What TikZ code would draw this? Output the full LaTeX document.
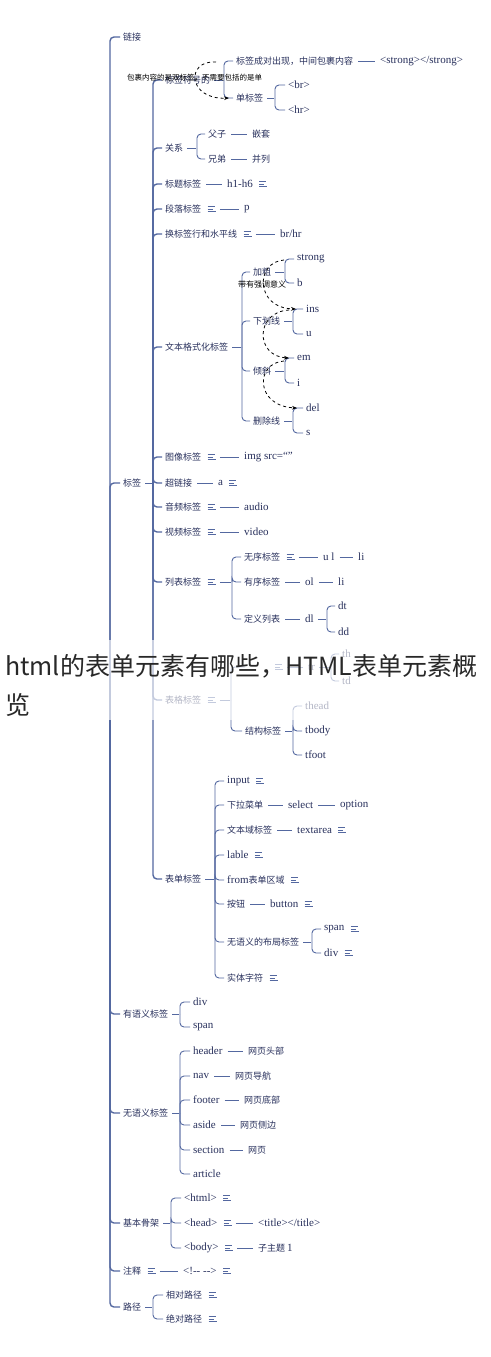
\documentclass[tikz,border=0pt]{standalone}
\usepackage{fontspec}
\setmainfont{Liberation Serif}
\newfontfamily\zh{Noto Sans CJK SC}
\usepackage{xcolor}
\usetikzlibrary{positioning, calc, arrows.meta}
\definecolor{linec}{RGB}{84,104,160}
\definecolor{textc}{RGB}{40,48,92}
\definecolor{titlec}{RGB}{40,40,40}
\newcommand{\latn}{\rmfamily\fontsize{11}{13}\selectfont}

\begin{document}
\begin{tikzpicture}[x=1pt,y=-1pt,
    every node/.style={anchor=west,inner sep=2pt,text=textc},
    cn/.style={font=\zh\fontsize{9}{11}\selectfont},
    en/.style={font=\latn},
    link/.style={draw=linec,line width=.9pt,rounded corners=4pt,shorten >=1pt},
    seg/.style={draw=linec,line width=.9pt,shorten <=3pt,shorten >=3pt},
    trunk/.style={link,line width=1.4pt},
    note/.style={minimum width=10pt,minimum height=8pt,inner sep=0pt,
      path picture={\draw[linec,line width=.8pt]
        ([shift={(-4pt,-2.5pt)}]path picture bounding box.center) -- ++(8pt,0)
        ([shift={(-4pt,0pt)}]path picture bounding box.center) -- ++(5pt,0)
        ([shift={(-4pt,2.5pt)}]path picture bounding box.center) -- ++(7pt,0);}},
    dasharc/.style={draw=black,dashed,line width=.8pt,-{Stealth[length=5pt]}},
    arclabel/.style={text=black,inner sep=0pt}]
  \fill[white] (0,0) rectangle (490,1357);
  \useasboundingbox (0,0) rectangle (490,1357);

  \node[cn] (lnk) at (121,37) {链接};
  \node[cn] (tag) at (121,483) {标签};
  \node[cn] (sem) at (121,1014) {有语义标签};
  \node[cn] (nsem) at (121,1113) {无语义标签};
  \node[cn] (skel) at (121,1223) {基本骨架};
  \node[cn] (cmt) at (121,1271) {注释};
  \node[cn] (pth) at (121,1307) {路径};

  \node[cn] (tgrp) at (163,80) {标签符号的};
  \node[cn] (pair) at (234,61) {标签成对出现，中间包裹内容};
  \node[en] (strongp) at (378,61) {<strong></strong>};
  \node[cn] (single) at (234,98) {单标签};
  \node[en] (br) at (286,85) {<br>};
  \node[en] (hr) at (286,110) {<hr>};

  \node[cn] (relat) at (163,148) {关系};
  \node[cn] (fz) at (206,134) {父子};
  \node[cn] (nest) at (250,134) {嵌套};
  \node[cn] (xd) at (206,159) {兄弟};
  \node[cn] (para) at (250,159) {并列};

  \node[cn] (htag) at (163,184) {标题标签};
  \node[en] (h16) at (225,184) {h1-h6};
  \node[note,right=3pt of h16] (n-h16) {};
  \node[cn] (ptag) at (163,209) {段落标签};
  \node[note,right=3pt of ptag] (n-ptag) {};
  \node[en] (p) at (242,209) {p};
  \node[cn] (brtag) at (163,234) {换标签行和水平线};
  \node[note,right=3pt of brtag] (n-brtag) {};
  \node[en] (brhr) at (278,234) {br/hr};

  \node[cn] (fmt) at (163,347) {文本格式化标签};
  \node[cn] (bold) at (251,272) {加粗};
  \node[en] (strong) at (295,259) {strong};
  \node[en] (b) at (295,283) {b};
  \node[cn] (under) at (251,321) {下划线};
  \node[en] (ins) at (304,309) {ins};
  \node[en] (u) at (304,334) {u};
  \node[cn] (ital) at (251,371) {倾斜};
  \node[en] (em) at (295,358) {em};
  \node[en] (i) at (295,383) {i};
  \node[cn] (strike) at (251,421) {删除线};
  \node[en] (delt) at (304,408) {del};
  \node[en] (s) at (304,433) {s};

  \node[cn] (img) at (163,457) {图像标签};
  \node[note,right=3pt of img] (n-img) {};
  \node[en] (imgsrc) at (242,457) {img src=“”};
  \node[cn] (alink) at (163,483) {超链接};
  \node[en] (a) at (216,483) {a};
  \node[note,right=3pt of a] (n-a) {};
  \node[cn] (audio) at (163,507) {音频标签};
  \node[note,right=3pt of audio] (n-audio) {};
  \node[en] (audiot) at (242,507) {audio};
  \node[cn] (video) at (163,532) {视频标签};
  \node[note,right=3pt of video] (n-video) {};
  \node[en] (videot) at (242,532) {video};

  \node[cn] (list) at (163,582) {列表标签};
  \node[note,right=3pt of list] (n-list) {};
  \node[cn] (ulist) at (242,557) {无序标签};
  \node[note,right=3pt of ulist] (n-ulist) {};
  \node[en] (ult) at (321,557) {u l};
  \node[en] (li1) at (356,557) {li};
  \node[cn] (olist) at (242,582) {有序标签};
  \node[en] (olt) at (303,582) {ol};
  \node[en] (li2) at (336,582) {li};
  \node[cn] (dlist) at (242,619) {定义列表};
  \node[en] (dlt) at (303,619) {dl};
  \node[en] (dt) at (336,606) {dt};
  \node[en] (dd) at (336,632) {dd};

  \node[cn] (table) at (163,700) {表格标签};
  \node[note,right=3pt of table] (n-table) {};
  \coordinate (row) at (246,667);
  \node[note] (n-row) at (274,667) {};
  \node[en] (tr) at (306,667) {tr};
  \node[en] (th) at (340,654) {th};
  \node[en] (td) at (340,681) {td};
  \node[cn] (struct) at (243,731) {结构标签};
  \node[en] (thead) at (303,706) {thead};
  \node[en] (tbody) at (303,731) {tbody};
  \node[en] (tfoot) at (303,755) {tfoot};

  \node[cn] (form) at (163,879) {表单标签};
  \node[en] (input) at (225,781) {input};
  \node[note,right=3pt of input] (n-input) {};
  \node[cn] (menu) at (225,805) {下拉菜单};
  \node[en] (sel) at (286,805) {select};
  \node[en] (option) at (338,805) {option};
  \node[cn] (tarea) at (225,830) {文本域标签};
  \node[en] (tat) at (295,830) {textarea};
  \node[note,right=3pt of tat] (n-tat) {};
  \node[en] (lable) at (225,855) {lable};
  \node[note,right=3pt of lable] (n-lable) {};
  \node[cn] (farea) at (225,880) {{\latn from}表单区域};
  \node[note,right=3pt of farea] (n-farea) {};
  \node[cn] (btn) at (225,904) {按钮};
  \node[en] (button) at (268,904) {button};
  \node[note,right=3pt of button] (n-button) {};
  \node[cn] (layout) at (225,942) {无语义的布局标签};
  \node[en] (span) at (322,929) {span};
  \node[note,right=3pt of span] (n-span) {};
  \node[en] (div) at (322,953) {div};
  \node[note,right=3pt of div] (n-div) {};
  \node[cn] (ent) at (225,978) {实体字符};
  \node[note,right=3pt of ent] (n-ent) {};

  \node[en] (sdiv) at (191,1002) {div};
  \node[en] (sspan) at (191,1027) {span};

  \node[en] (header) at (191,1051) {header};
  \node[cn] (wtop) at (246,1051) {网页头部};
  \node[en] (nav) at (191,1076) {nav};
  \node[cn] (wnav) at (233,1076) {网页导航};
  \node[en] (footer) at (191,1100) {footer};
  \node[cn] (wfoot) at (242,1100) {网页底部};
  \node[en] (aside) at (191,1125) {aside};
  \node[cn] (wside) at (238,1125) {网页侧边};
  \node[en] (section) at (191,1150) {section};
  \node[cn] (wpage) at (246,1150) {网页};
  \node[en] (article) at (191,1174) {article};

  \node[en] (html) at (182,1198) {<html>};
  \node[note,right=3pt of html] (n-html) {};
  \node[en] (head) at (182,1223) {<head>};
  \node[note,right=3pt of head] (n-head) {};
  \node[en] (title) at (256,1223) {<title></title>};
  \node[en] (body) at (182,1248) {<body>};
  \node[note,right=3pt of body] (n-body) {};
  \node[cn] (sub) at (256,1248) {子主题 {\latn 1}};

  \node[note,right=3pt of cmt] (n-cmt) {};
  \node[en] (cm) at (181,1271) {<!-{}- -{}->};
  \node[note,right=3pt of cm] (n-cm) {};

  \node[cn] (relp) at (164,1295) {相对路径};
  \node[note,right=3pt of relp] (n-relp) {};
  \node[cn] (absp) at (164,1319) {绝对路径};
  \node[note,right=3pt of absp] (n-absp) {};

  \coordinate (root) at (110,672);
  \draw[trunk] (root) |- (lnk.west);
  \draw[trunk] (root) |- (tag.west);
  \draw[trunk] (root) |- (sem.west);
  \draw[trunk] (root) |- (nsem.west);
  \draw[trunk] (root) |- (skel.west);
  \draw[trunk] (root) |- (cmt.west);
  \draw[trunk] (root) |- (pth.west);

  \coordinate (k-tag) at (153,483);
  \draw[link,shorten <=2pt] (tag.east) -- (k-tag);
  \draw[trunk] (k-tag) |- (tgrp.west);
  \draw[trunk] (k-tag) |- (relat.west);
  \draw[trunk] (k-tag) |- (htag.west);
  \draw[trunk] (k-tag) |- (ptag.west);
  \draw[trunk] (k-tag) |- (brtag.west);
  \draw[trunk] (k-tag) |- (fmt.west);
  \draw[trunk] (k-tag) |- (img.west);
  \draw[trunk] (k-tag) |- (alink.west);
  \draw[trunk] (k-tag) |- (audio.west);
  \draw[trunk] (k-tag) |- (video.west);
  \draw[trunk] (k-tag) |- (list.west);
  \draw[trunk] (k-tag) |- (table.west);
  \draw[trunk] (k-tag) |- (form.west);

  \coordinate (k-tgrp) at (224,80);
  \draw[link,shorten <=2pt] (tgrp.east) -- (k-tgrp);
  \draw[link] (k-tgrp) |- (pair.west);
  \draw[link] (k-tgrp) |- (single.west);
  \draw[seg] (pair) -- (strongp);
  \coordinate (k-single) at (275,98);
  \draw[link,shorten <=2pt] (single.east) -- (k-single);
  \draw[link] (k-single) |- (br.west);
  \draw[link] (k-single) |- (hr.west);

  \coordinate (k-relat) at (197,148);
  \draw[link,shorten <=2pt] (relat.east) -- (k-relat);
  \draw[link] (k-relat) |- (fz.west);
  \draw[link] (k-relat) |- (xd.west);
  \draw[seg] (fz) -- (nest);
  \draw[seg] (xd) -- (para);

  \draw[seg] (htag) -- (h16);
  \draw[seg] (n-ptag) -- (p);
  \draw[seg] (n-brtag) -- (brhr);

  \coordinate (k-fmt) at (242,347);
  \draw[link,shorten <=2pt] (fmt.east) -- (k-fmt);
  \draw[link] (k-fmt) |- (bold.west);
  \draw[link] (k-fmt) |- (under.west);
  \draw[link] (k-fmt) |- (ital.west);
  \draw[link] (k-fmt) |- (strike.west);
  \coordinate (k-bold) at (285,272);
  \draw[link,shorten <=2pt] (bold.east) -- (k-bold);
  \draw[link] (k-bold) |- (strong.west);
  \draw[link] (k-bold) |- (b.west);
  \coordinate (k-under) at (293,321);
  \draw[link,shorten <=2pt] (under.east) -- (k-under);
  \draw[link] (k-under) |- (ins.west);
  \draw[link] (k-under) |- (u.west);
  \coordinate (k-ital) at (285,371);
  \draw[link,shorten <=2pt] (ital.east) -- (k-ital);
  \draw[link] (k-ital) |- (em.west);
  \draw[link] (k-ital) |- (i.west);
  \coordinate (k-strike) at (293,421);
  \draw[link,shorten <=2pt] (strike.east) -- (k-strike);
  \draw[link] (k-strike) |- (delt.west);
  \draw[link] (k-strike) |- (s.west);

  \draw[seg] (n-img) -- (imgsrc);
  \draw[seg] (alink) -- (a);
  \draw[seg] (n-audio) -- (audiot);
  \draw[seg] (n-video) -- (videot);

  \coordinate (k-list) at (232,582);
  \draw[link,shorten <=3pt] (n-list.east) -- (k-list);
  \draw[link] (k-list) |- (ulist.west);
  \draw[link] (k-list) |- (olist.west);
  \draw[link] (k-list) |- (dlist.west);
  \draw[seg] (n-ulist) -- (ult);
  \draw[seg] (ult) -- (li1);
  \draw[seg] (olist) -- (olt);
  \draw[seg] (olt) -- (li2);
  \draw[seg] (dlist) -- (dlt);
  \coordinate (k-dl) at (327,619);
  \draw[link,shorten <=2pt] (dlt.east) -- (k-dl);
  \draw[link] (k-dl) |- (dt.west);
  \draw[link] (k-dl) |- (dd.west);

  \coordinate (k-table) at (231,700);
  \draw[link,shorten <=3pt] (n-table.east) -- (k-table);
  \draw[link] (k-table) |- (row);
  \draw[link] (k-table) |- (struct.west);
  \draw[seg] (n-row) -- (tr);
  \coordinate (k-tr) at (331,667);
  \draw[link,shorten <=2pt] (tr.east) -- (k-tr);
  \draw[link] (k-tr) |- (th.west);
  \draw[link] (k-tr) |- (td.west);
  \coordinate (k-struct) at (293,731);
  \draw[link,shorten <=2pt] (struct.east) -- (k-struct);
  \draw[link] (k-struct) |- (thead.west);
  \draw[link] (k-struct) |- (tbody.west);
  \draw[link] (k-struct) |- (tfoot.west);

  \coordinate (k-form) at (215,879);
  \draw[link,shorten <=2pt] (form.east) -- (k-form);
  \draw[link] (k-form) |- (input.west);
  \draw[link] (k-form) |- (menu.west);
  \draw[link] (k-form) |- (tarea.west);
  \draw[link] (k-form) |- (lable.west);
  \draw[link] (k-form) |- (farea.west);
  \draw[link] (k-form) |- (btn.west);
  \draw[link] (k-form) |- (layout.west);
  \draw[link] (k-form) |- (ent.west);
  \draw[seg] (menu) -- (sel);
  \draw[seg] (sel) -- (option);
  \draw[seg] (tarea) -- (tat);
  \draw[seg] (btn) -- (button);
  \coordinate (k-layout) at (312,942);
  \draw[link,shorten <=2pt] (layout.east) -- (k-layout);
  \draw[link] (k-layout) |- (span.west);
  \draw[link] (k-layout) |- (div.west);

  \coordinate (k-sem) at (180,1014);
  \draw[link,shorten <=2pt] (sem.east) -- (k-sem);
  \draw[link] (k-sem) |- (sdiv.west);
  \draw[link] (k-sem) |- (sspan.west);

  \coordinate (k-nsem) at (180,1113);
  \draw[link,shorten <=2pt] (nsem.east) -- (k-nsem);
  \draw[link] (k-nsem) |- (header.west);
  \draw[link] (k-nsem) |- (nav.west);
  \draw[link] (k-nsem) |- (footer.west);
  \draw[link] (k-nsem) |- (aside.west);
  \draw[link] (k-nsem) |- (section.west);
  \draw[link] (k-nsem) |- (article.west);
  \draw[seg] (header) -- (wtop);
  \draw[seg] (nav) -- (wnav);
  \draw[seg] (footer) -- (wfoot);
  \draw[seg] (aside) -- (wside);
  \draw[seg] (section) -- (wpage);

  \coordinate (k-skel) at (171,1223);
  \draw[link,shorten <=2pt] (skel.east) -- (k-skel);
  \draw[link] (k-skel) |- (html.west);
  \draw[link] (k-skel) |- (head.west);
  \draw[link] (k-skel) |- (body.west);
  \draw[seg] (n-head) -- (title);
  \draw[seg] (n-body) -- (sub);

  \draw[seg] (n-cmt) -- (cm);

  \coordinate (k-pth) at (153,1307);
  \draw[link,shorten <=2pt] (pth.east) -- (k-pth);
  \draw[link] (k-pth) |- (relp.west);
  \draw[link] (k-pth) |- (absp.west);

  \coordinate (r1a) at (216,62);
  \coordinate (r1b) at (229,98);
  \draw[dasharc] (r1a) .. controls (185,60) and (188,100) .. (r1b);
  \node[arclabel,font=\zh\fontsize{7.5}{9}\selectfont] (r1t) at (127,78) {包裹内容的是双标签，不需要包括的是单};
  \coordinate (r2a) at (284,260);
  \coordinate (r2b) at (296,309);
  \draw[dasharc] (r2a) .. controls (255,262) and (255,308) .. (r2b);
  \coordinate (r3a) at (289,310);
  \coordinate (r3b) at (289,358);
  \draw[dasharc] (r3a) .. controls (255,312) and (255,356) .. (r3b);
  \coordinate (r4a) at (284,361);
  \coordinate (r4b) at (297,408);
  \draw[dasharc] (r4a) .. controls (255,363) and (255,406) .. (r4b);
  \node[arclabel,font=\zh\fontsize{8}{9}\selectfont] (r2t) at (238,284) {带有强调意义};

  \fill[white,opacity=.65] (0,640) rectangle (490,720);
  \node[font=\zh\fontsize{25}{30}\selectfont,text=titlec,inner sep=0pt] (title1) at (5,666) {html的表单元素有哪些，HTML表单元素概};
  \node[font=\zh\fontsize{25}{30}\selectfont,text=titlec,inner sep=0pt] (title2) at (5,705) {览};
\end{tikzpicture}
\end{document}
